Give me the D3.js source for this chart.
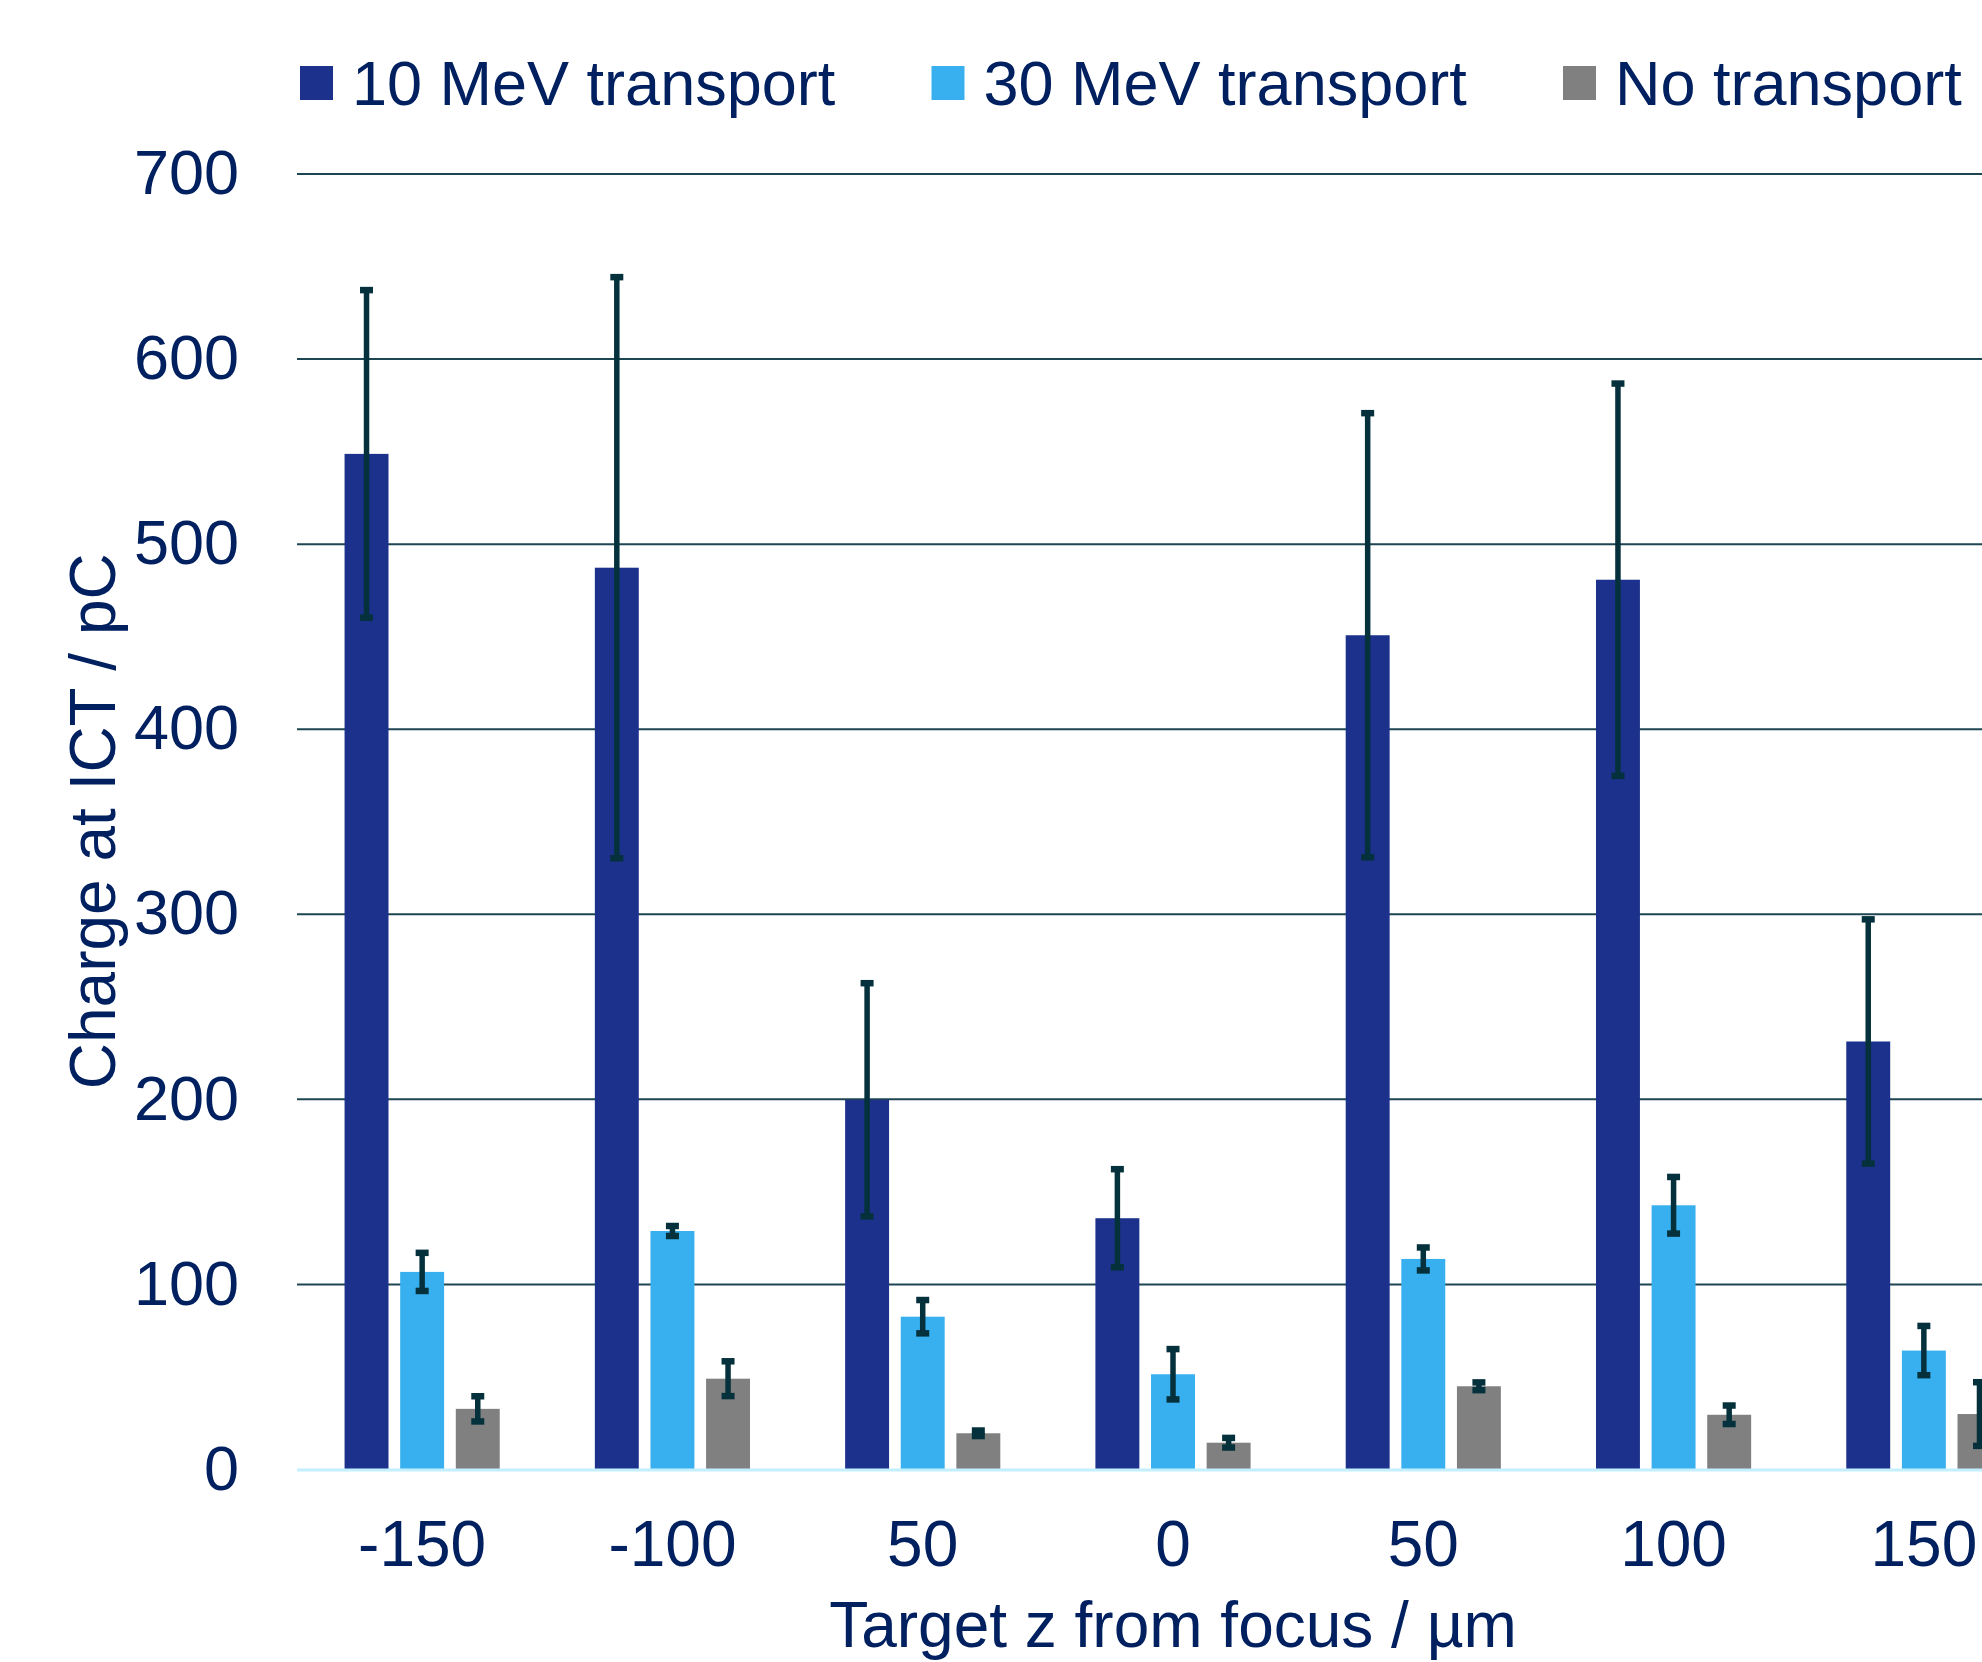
<!DOCTYPE html>
<html>
<head>
<meta charset="utf-8">
<script src="https://cdn.jsdelivr.net/npm/d3@7"></script>
<style>
  html, body { margin: 0; padding: 0; background: #ffffff; overflow: hidden; }
  text { font-family: "Liberation Sans", Arial, sans-serif; fill: #002060; }
</style>
</head>
<body>
<svg id="chart" width="1982" height="1662"></svg>
<script>
// Target positions along z (µm) and the three measurement series
const categories = ["-150", "-100", "50", "0", "50", "100", "150"];
const seriesNames = ["10 MeV transport", "30 MeV transport", "No transport"];
const seriesColors = ["#1b318b", "#38b0f0", "#808080"];

const transport10    = [548.5, 487.0, 199.5, 135.5, 450.5, 480.5, 231.0];
const transport10Err = [88.5, 157.0, 63.0, 26.5, 120.0, 106.0, 66.0];
const transport30    = [106.5, 128.6, 82.3, 51.2, 113.5, 142.5, 64.0];
const transport30Err = [10.3, 2.7, 9.0, 13.6, 6.2, 15.3, 13.3];
const noTransport    = [32.5, 48.8, 19.3, 14.2, 44.7, 29.3, 29.7];
const noTransportErr = [6.8, 9.4, 1.5, 2.6, 2.1, 5.0, 17.2];

const yTicks = [0, 100, 200, 300, 400, 500, 600, 700];

const series = [
  { name: seriesNames[0], color: seriesColors[0], values: transport10, errors: transport10Err },
  { name: seriesNames[1], color: seriesColors[1], values: transport30, errors: transport30Err },
  { name: seriesNames[2], color: seriesColors[2], values: noTransport, errors: noTransportErr }
];

const svg = d3.select("#chart");
const plotLeft = 297, plotRight = 2049, plotTop = 173.5, plotBottom = 1469;

const y = d3.scaleLinear().domain([0, 700]).range([plotBottom, plotTop]);
const x0 = d3.scaleBand()
  .domain(d3.range(categories.length))
  .range([plotLeft, plotRight])
  .paddingInner(0.38)
  .paddingOuter(0.19);
const x1 = d3.scaleBand()
  .domain(d3.range(series.length))
  .range([0, x0.bandwidth()])
  .paddingInner(0.21);

// Horizontal gridlines and y tick labels
const yAxis = svg.append("g")
  .attr("transform", `translate(${plotLeft},0)`)
  .call(d3.axisLeft(y).tickValues(yTicks).tickSize(-(plotRight - plotLeft)).tickPadding(58));
yAxis.select(".domain").remove();
yAxis.selectAll(".tick line")
  .attr("stroke", d => d === 0 ? "none" : "#1d4652")
  .attr("stroke-width", 2);
yAxis.selectAll(".tick text")
  .attr("fill", "#002060")
  .style("font-size", "63px")
  .style("font-family", "'Liberation Sans', Arial, sans-serif");

// Bars
const groups = svg.append("g").selectAll("g")
  .data(categories.map((c, i) => i))
  .join("g")
  .attr("transform", i => `translate(${x0(i)},0)`);

groups.selectAll("rect")
  .data(i => series.map((s, k) => ({ k, v: s.values[i], e: s.errors[i], color: s.color })))
  .join("rect")
  .attr("x", d => x1(d.k))
  .attr("width", x1.bandwidth())
  .attr("y", d => y(d.v))
  .attr("height", d => y(0) - y(d.v))
  .attr("fill", d => d.color);

// Error bars
const errColor = "#05313c";
const capW = 13;
const eb = groups.selectAll("g.err")
  .data(i => series.map((s, k) => ({ k, v: s.values[i], e: s.errors[i] })))
  .join("g")
  .attr("class", "err")
  .attr("transform", d => `translate(${x1(d.k) + x1.bandwidth() / 2},0)`);
eb.append("line")
  .attr("x1", 0).attr("x2", 0)
  .attr("y1", d => y(d.v + d.e))
  .attr("y2", d => y(d.v - d.e))
  .attr("stroke", errColor).attr("stroke-width", 5.5);
eb.append("line")
  .attr("x1", -capW / 2).attr("x2", capW / 2)
  .attr("y1", d => y(d.v + d.e)).attr("y2", d => y(d.v + d.e))
  .attr("stroke", errColor).attr("stroke-width", 6.5);
eb.append("line")
  .attr("x1", -capW / 2).attr("x2", capW / 2)
  .attr("y1", d => y(d.v - d.e)).attr("y2", d => y(d.v - d.e))
  .attr("stroke", errColor).attr("stroke-width", 6.5);

// Category axis line
svg.append("line")
  .attr("x1", plotLeft).attr("x2", plotRight)
  .attr("y1", y(0) + 1).attr("y2", y(0) + 1)
  .attr("stroke", "#c4efff").attr("stroke-width", 3);

// Category labels
svg.append("g").selectAll("text")
  .data(categories)
  .join("text")
  .attr("x", (c, i) => x0(i) + x0.bandwidth() / 2)
  .attr("y", 1566)
  .attr("text-anchor", "middle")
  .style("font-size", "64px")
  .text(c => c);

// Axis titles
svg.append("text")
  .attr("x", (plotLeft + plotRight) / 2)
  .attr("y", 1647)
  .attr("text-anchor", "middle")
  .style("font-size", "64px")
  .text("Target z from focus / µm");

svg.append("text")
  .attr("transform", `translate(115,${(plotTop + plotBottom) / 2}) rotate(-90)`)
  .attr("text-anchor", "middle")
  .style("font-size", "64px")
  .text("Charge at ICT / pC");

// Legend
const legend = svg.append("g").selectAll("g")
  .data(series)
  .join("g")
  .attr("transform", (s, i) => `translate(${300 + i * 631.5},0)`);
legend.append("rect")
  .attr("x", 0).attr("y", 66)
  .attr("width", 33).attr("height", 34)
  .attr("fill", s => s.color);
legend.append("text")
  .attr("x", 52).attr("y", 105)
  .style("font-size", "63px")
  .text(s => s.name);
</script>
</body>
</html>
